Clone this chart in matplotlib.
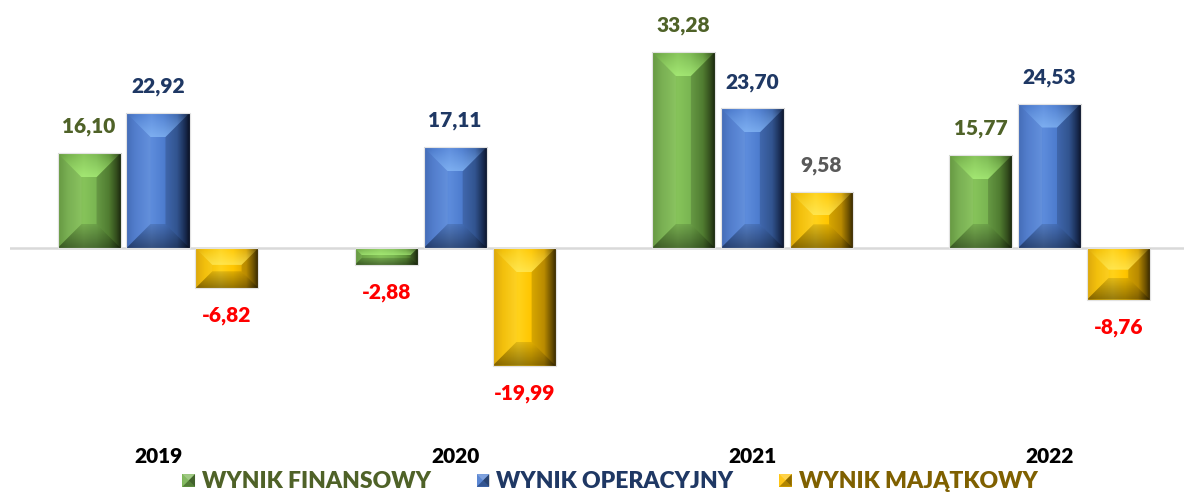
import numpy as np
import matplotlib
matplotlib.use("Agg")
import matplotlib.pyplot as plt
from matplotlib.patches import Polygon, Rectangle
from matplotlib.colors import LinearSegmentedColormap
from matplotlib.legend_handler import HandlerBase

plt.rcParams['font.family'] = ['Lato', 'DejaVu Sans']
plt.rcParams['font.weight'] = 'bold'
FW = 'heavy'

# ---- data ----
years = ["2019", "2020", "2021", "2022"]
series_names = ["WYNIK FINANSOWY", "WYNIK OPERACYJNY", "WYNIK MAJĄTKOWY"]
finansowy = [16.10, -2.88, 33.28, 15.77]
operacyjny = [22.92, 17.11, 23.70, 24.53]
majatkowy = [-6.82, -19.99, 9.58, -8.76]

# ---- styles ----
grad_colors = [
    [(0.0, "#5F9338"), (0.15, "#72AB4A"), (0.4, "#86C35A"), (0.6, "#7AB652"), (0.8, "#5E9239"), (0.92, "#3B5922"), (1.0, "#18240D")],
    [(0.0, "#3B65B3"), (0.15, "#4A78CB"), (0.4, "#5D8CDC"), (0.6, "#4D7CCE"), (0.8, "#3B63A9"), (0.92, "#1F3664"), (1.0, "#0C142A")],
    [(0.0, "#D9A200"), (0.15, "#F2BC00"), (0.4, "#FFD21A"), (0.6, "#FFC600"), (0.8, "#DBA400"), (0.92, "#7E5E00"), (1.0, "#352700")],
]
highlight_rgb = [(0.72, 1.0, 0.52), (0.58, 0.78, 1.0), (1.0, 0.96, 0.45)]
base_colors = ["#77B350", "#4A7BD0", "#FFC000"]
pos_label_colors = ["#4F6228", "#1F3864", "#595959"]
neg_label_color = "#FF0000"
legend_text_colors = ["#4F6228", "#1F3864", "#7F6000"]

W, H, DPI = 11.84, 4.95, 100
fig = plt.figure(figsize=(W, H), dpi=DPI)
ax_left_px, ax_right_px = 10, 1184
ax_top_px, ax_bot_px = 0, 440
ax = fig.add_axes([ax_left_px / 1184, 1 - ax_bot_px / 495,
                   (ax_right_px - ax_left_px) / 1184, (ax_bot_px - ax_top_px) / 495])

sx = 297.17  # px per category
sy = 5.89    # px per unit
x_first_px = 158
zero_px = 248
xmin = (ax_left_px - x_first_px) / sx
xmax = (ax_right_px - x_first_px) / sx
ymax = (zero_px - ax_top_px) / sy
ymin = -(ax_bot_px - zero_px) / sy

x = np.arange(len(years))
bar_w = 0.212
pitch = 0.232
all_series = [finansowy, operacyjny, majatkowy]

ax.axhline(0, color="#D9D9D9", lw=1.8, zorder=0)

ramp = np.linspace(0, 1, 64).reshape(-1, 1)


def shaded_poly(ax, pts, rgb, a_top, a_bot, extent, zorder):
    poly = Polygon(pts, closed=True, facecolor="none", lw=0, zorder=zorder)
    ax.add_patch(poly)
    img = np.zeros((64, 1, 4))
    img[..., 0:3] = rgb
    img[..., 3] = (a_top + (a_bot - a_top) * ramp)
    im = ax.imshow(img, extent=extent, aspect="auto", interpolation="bilinear",
                   origin="upper", zorder=zorder)
    im.set_clip_path(poly)


def draw_bevel(ax, x0, x1, y0, y1, bx, by, hl, zorder):
    shaded_poly(ax, [(x0, y1), (x1, y1), (x1 - bx, y1 - by), (x0 + bx, y1 - by)],
                hl, 0.05, 0.6, (x0, x1, y1 - by, y1), zorder)
    shaded_poly(ax, [(x0, y0), (x1, y0), (x1 - bx, y0 + by), (x0 + bx, y0 + by)],
                (0, 0, 0), 0.12, 0.42, (x0, x1, y0, y0 + by), zorder)
    lft = Polygon([(x0, y0), (x0, y1), (x0 + bx, y1 - by), (x0 + bx, y0 + by)],
                  closed=True, facecolor="white", alpha=0.05, lw=0, zorder=zorder)
    rgt = Polygon([(x1, y0), (x1, y1), (x1 - bx, y1 - by), (x1 - bx, y0 + by)],
                  closed=True, facecolor="black", alpha=0.15, lw=0, zorder=zorder)
    ax.add_patch(lft)
    ax.add_patch(rgt)


grad = np.linspace(0, 1, 256).reshape(1, -1)
for i, vals in enumerate(all_series):
    offs = (i - 1) * pitch
    cmap = LinearSegmentedColormap.from_list(f"c{i}", grad_colors[i])
    bars = ax.bar(x + offs, vals, width=bar_w, color=base_colors[i],
                  edgecolor="#E3E3E3", linewidth=0.8, zorder=2)
    for b, v in zip(bars, vals):
        x0 = b.get_x()
        x1 = x0 + b.get_width()
        y0 = min(0, v)
        y1 = max(0, v)
        im = ax.imshow(grad, cmap=cmap, extent=(x0, x1, y0, y1), aspect="auto",
                       interpolation="bilinear", zorder=2.5)
        im.set_clip_path(b)
        h_px = abs(v) * sy
        b_px = min(24, 0.42 * h_px)
        draw_bevel(ax, x0, x1, y0, y1, b_px / sx, b_px / sy, highlight_rgb[i], 3)
        ax.add_patch(Rectangle((x0, y0), x1 - x0, y1 - y0, fill=False,
                               edgecolor="#E3E3E3", lw=0.8, zorder=3.5))
        col = pos_label_colors[i] if v >= 0 else neg_label_color
        ax.annotate(f"{v:.2f}".replace(".", ","), xy=(b.get_x() + b.get_width() / 2, v),
                    xytext=(0, 19 if v >= 0 else -20), textcoords="offset points",
                    ha="center", va="center", fontsize=15, fontweight=FW, color=col,
                    zorder=5)

ax.set_xlim(xmin, xmax)
ax.set_ylim(ymin, ymax)
ax.set_xticks(x)
ax.set_xticklabels(years, fontsize=15, fontweight=FW, color="black")
ax.tick_params(axis="x", length=0, pad=5)
ax.set_yticks([])
for s in ax.spines.values():
    s.set_visible(False)


class BevelHandler(HandlerBase):
    def __init__(self, idx):
        super().__init__()
        self.idx = idx

    def create_artists(self, legend, orig_handle, xdescent, ydescent, width, height, fontsize, trans):
        s = min(width, height * 1.25)
        x0 = -xdescent + (width - s) / 2
        y0 = -ydescent + (height - s) / 2
        x1, y1 = x0 + s, y0 + s
        cx, cy = (x0 + x1) / 2, (y0 + y1) / 2
        c = base_colors[self.idx]
        arts = [Rectangle((x0, y0), s, s, facecolor=c, edgecolor="none", transform=trans)]
        specs = [([(x0, y1), (x1, y1), (cx, cy)], "white", 0.3),
                 ([(x0, y0), (x1, y0), (cx, cy)], "black", 0.3),
                 ([(x0, y0), (x0, y1), (cx, cy)], "white", 0.1),
                 ([(x1, y0), (x1, y1), (cx, cy)], "black", 0.45)]
        for pts, fc, a in specs:
            arts.append(Polygon(pts, closed=True, facecolor=fc, alpha=a, lw=0, transform=trans))
        return arts


handles = [Rectangle((0, 0), 1, 1) for _ in series_names]
leg = fig.legend(handles, series_names, loc="center",
                 bbox_to_anchor=(610 / 1184, 1 - 482 / 495), ncol=3, frameon=False,
                 prop={"size": 16.5, "weight": FW}, handlelength=0.55, handleheight=0.55,
                 handletextpad=0.3, columnspacing=2.0,
                 handler_map={handles[i]: BevelHandler(i) for i in range(3)})
for t, c in zip(leg.get_texts(), legend_text_colors):
    t.set_color(c)

fig.savefig("out.png", dpi=DPI)
